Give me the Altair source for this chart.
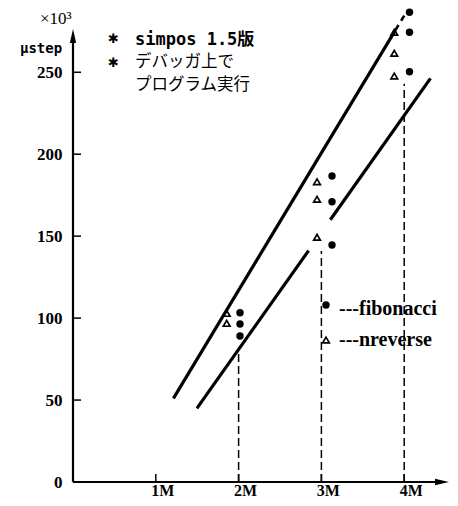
import altair as alt
import pandas as pd

# ---- data (x in M, y in x10^3 steps) ----
fib_x = [2.017, 2.017, 2.017, 3.128, 3.128, 3.128, 4.064, 4.064, 4.064]
fib_y = [103.3, 96.4, 89.1, 186.7, 171.0, 144.6, 286.6, 274.4, 250.3]
nrev_x = [1.856, 1.856, 2.947, 2.947, 2.947, 3.880, 3.880, 3.880]
nrev_y = [102.9, 96.8, 183.2, 172.5, 149.3, 274.4, 261.6, 247.7]

# straight trend lines (segment end points)
seg_x1 = [1.213, 1.496, 3.108]
seg_y1 = [51.0, 44.9, 160.0]
seg_x2 = [3.894, 2.845, 4.317]
seg_y2 = [275.7, 141.2, 246.3]
ext_x1 = [3.894]
ext_y1 = [275.7]
ext_x2 = [4.02]
ext_y2 = [286.2]

# vertical dashed drop lines
drop_x = [2, 3, 4]
drop_top = [80, 141, 243]

y_ticks = [0, 50, 100, 150, 200, 250]
x_ticks = [1, 2, 3, 4]
x_labels = ["1M", "2M", "3M", "4M"]

PW, PH = 377, 472

# ---- scales / axes ----
xs = alt.Scale(domain=[0, PW / 82.8], nice=False, zero=False)
ys = alt.Scale(domain=[0, PH / 1.639], nice=False, zero=False)
x_axis = alt.Axis(values=x_ticks, labels=False, ticks=False, domain=False,
                  grid=False, title=None)
y_axis = alt.Axis(values=y_ticks, ticks=False, domain=False, grid=False,
                  labelPadding=11, labelFont="Liberation Serif", labelFontSize=17,
                  labelFontWeight="bold", labelColor="black", title=None)


def X(f):
    return alt.X(f, type="quantitative", scale=xs, axis=x_axis, title=None)


def Y(f):
    return alt.Y(f, type="quantitative", scale=ys, axis=y_axis, title=None)


fib = pd.DataFrame({"x": fib_x, "y": fib_y})
nrev = pd.DataFrame({"x": nrev_x, "y": nrev_y})
segs = pd.DataFrame({"x": seg_x1, "y": seg_y1, "x2": seg_x2, "y2": seg_y2})
ext = pd.DataFrame({"x": ext_x1, "y": ext_y1, "x2": ext_x2, "y2": ext_y2})
drops = pd.DataFrame({"x": drop_x, "y": [0] * len(drop_x), "y2": drop_top})
yt = pd.DataFrame({"x": [0] * 5, "x2": [0.097] * 5, "y": y_ticks[1:]})
xt = pd.DataFrame({"x": x_ticks, "y": [0] * 4, "y2": [4.9] * 4, "lab": x_labels})

layers = []

# tick marks (inward)
layers.append(alt.Chart(yt).mark_rule(color="black", strokeWidth=1.5).encode(
    x=X("x"), x2="x2", y=Y("y")))
layers.append(alt.Chart(xt).mark_rule(color="black", strokeWidth=1.5).encode(
    x=X("x"), y=Y("y"), y2="y2"))
# x tick labels
layers.append(alt.Chart(xt).mark_text(font="Liberation Serif", fontSize=16, fontWeight="bold",
                                      align="center", baseline="alphabetic", dx=7, dy=14,
                                      color="black").encode(
    x=X("x"), y=Y("y"), text="lab:N"))

# drop lines
layers.append(alt.Chart(drops).mark_rule(color="black", strokeWidth=1.5, strokeDash=[8, 4]).encode(
    x=X("x"), y=Y("y"), y2="y2"))

# trend lines
layers.append(alt.Chart(segs).mark_rule(color="black", strokeWidth=3.2).encode(
    x=X("x"), y=Y("y"), x2="x2", y2="y2"))
layers.append(alt.Chart(ext).mark_rule(color="black", strokeWidth=2.6, strokeDash=[6, 5]).encode(
    x=X("x"), y=Y("y"), x2="x2", y2="y2"))

# points
layers.append(alt.Chart(fib).mark_point(shape="circle", filled=True, color="black", size=55, opacity=1).encode(
    x=X("x"), y=Y("y")))
layers.append(alt.Chart(nrev).mark_point(shape="triangle-up", filled=False, color="black", size=45,
                                         strokeWidth=1.7, opacity=1).encode(x=X("x"), y=Y("y")))

one = pd.DataFrame({"a": [0]})

# axis lines with arrow heads (plot-pixel coordinates)
layers.append(alt.Chart(one).mark_rule(color="black", strokeWidth=2.2).encode(
    x=alt.value(0), y=alt.value(PH), y2=alt.value(26)))
layers.append(alt.Chart(one).mark_rule(color="black", strokeWidth=2.2).encode(
    x=alt.value(0), x2=alt.value(PW - 8), y=alt.value(PH)))
layers.append(alt.Chart(one).mark_point(shape="M0,-1L0.45,1L-0.45,1Z", filled=True, color="black",
                                        size=196, opacity=1).encode(x=alt.value(0), y=alt.value(26)))
layers.append(alt.Chart(one).mark_point(shape="M1,0L-1,-0.45L-1,0.45Z", filled=True, color="black",
                                        size=196, opacity=1).encode(x=alt.value(PW - 8), y=alt.value(PH)))

# legend
layers.append(alt.Chart(one).mark_point(shape="circle", filled=True, color="black", size=55, opacity=1).encode(
    x=alt.value(326 - 73), y=alt.value(305 - 10)))
layers.append(alt.Chart(one).mark_point(shape="triangle-up", filled=False, color="black", size=45,
                                        strokeWidth=1.7, opacity=1).encode(
    x=alt.value(326 - 73), y=alt.value(340 - 10)))


def txt(s, px, py, font, size, weight="normal", baseline="middle"):
    return alt.Chart(one).mark_text(text=s, font=font, fontSize=size, fontWeight=weight,
                                    align="left", baseline=baseline, color="black").encode(
        x=alt.value(px - 73), y=alt.value(py - 10))


layers.append(txt("---fibonacci", 339, 315, "Liberation Serif", 20, "bold", "alphabetic"))
layers.append(txt("---nreverse", 339, 346, "Liberation Serif", 20, "bold", "alphabetic"))

# annotations
layers.append(txt("×10³", 40, 19, "Liberation Serif", 17))
layers.append(txt("μstep", 20, 49, "DejaVu Sans Mono", 14, "bold"))
layers.append(txt("✱", 108, 39, "DejaVu Sans", 13, "bold"))
layers.append(txt("✱", 108, 63, "DejaVu Sans", 13, "bold"))
layers.append(txt("simpos 1.5版", 135, 40, "DejaVu Sans Mono, 'Noto Sans CJK JP'", 17, "bold"))
layers.append(txt("デバッガ上で", 135, 62, "Noto Sans CJK JP", 16.5))
layers.append(txt("プログラム実行", 135, 85, "Noto Sans CJK JP", 16.5))

chart = alt.layer(*layers).properties(
    width=PW, height=PH,
    padding={"left": 65, "top": 2, "right": 0, "bottom": 16},
    autosize="none",
    background="white",
).configure_view(stroke=None)

chart.save("out.html", embed_options={"renderer": "svg", "actions": False})
